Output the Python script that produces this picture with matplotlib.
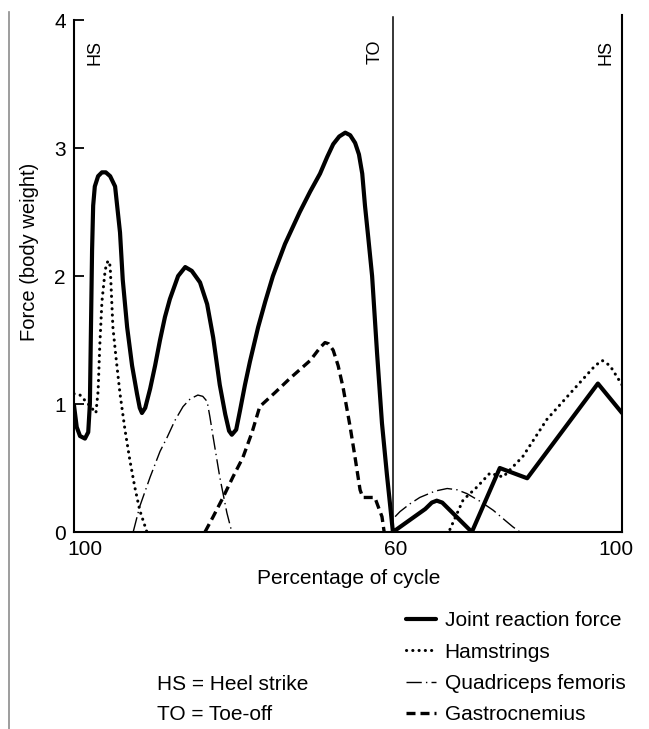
"""Knee joint reaction force and muscle forces over the gait cycle."""

import numpy as np
import matplotlib

matplotlib.use("Agg")
import matplotlib.pyplot as plt
from matplotlib.lines import Line2D

plt.rcParams["font.family"] = ["Liberation Sans", "DejaVu Sans"]

nan = np.nan

# x is position along the plotted cycle (0 = heel strike, 58.2 = toe-off, 100 = next heel strike)
jrf_x = [0.0, 0.5, 1.1, 2.0, 2.6, 2.9, 3.1, 3.3, 3.5, 3.8, 4.4, 5.1, 5.8, 6.6, 7.5,
         8.0, 8.4, 8.9, 9.7, 10.6, 11.5, 12.0, 12.4, 13.0, 13.9, 14.8, 15.7, 16.6,
         17.5, 19.0, 20.3, 21.5, 23.0, 24.3, 25.4, 26.6, 27.6, 28.3, 28.8, 29.6,
         30.3, 31.2, 32.1, 33.6, 34.9, 36.3, 38.5, 41.2, 43.1, 44.9, 46.2, 47.3,
         48.4, 49.5, 50.4, 51.3, 52.0, 52.6, 53.1, 53.7, 54.4, 55.3, 56.2, 57.1,
         58.2, 64.1, 65.3, 66.2, 67.2, 72.6, 77.7, 82.7, 95.6, 100.0]
jrf_y = [0.99, 0.82, 0.75, 0.73, 0.78, 1.0, 1.6, 2.2, 2.55, 2.7, 2.78, 2.81, 2.81,
         2.78, 2.70, 2.5, 2.34, 1.97, 1.6, 1.3, 1.08, 0.97, 0.93, 0.97, 1.12, 1.3,
         1.5, 1.68, 1.82, 2.0, 2.07, 2.04, 1.95, 1.78, 1.52, 1.15, 0.92, 0.79, 0.76,
         0.8, 0.95, 1.15, 1.33, 1.6, 1.8, 2.0, 2.25, 2.5, 2.66, 2.8, 2.93, 3.03,
         3.09, 3.12, 3.1, 3.04, 2.95, 2.8, 2.55, 2.3, 2.0, 1.4, 0.85, 0.45,
         0.0, 0.18, 0.23, 0.245, 0.23, 0.0, 0.5, 0.42, 1.16, 0.93]

ham_x = [0.0, 1.1, 2.6, 4.0, 4.4, 4.7, 5.1, 5.7, 6.2, 6.6, 7.1, 7.7, 8.4, 9.3, 10.2,
         11.1, 12.0, 13.0, 13.3, nan,
         68.6, 71.0, 73.5, 75.9, 78.3, 81.9, 86.3, 91.1, 95.1, 96.4, 97.8, 100.0]
ham_y = [1.08, 1.07, 1.0, 0.93, 1.1, 1.45, 1.8, 2.05, 2.12, 2.08, 1.6, 1.35, 1.08,
         0.8, 0.56, 0.35, 0.17, 0.04, 0.0, nan,
         0.02, 0.25, 0.35, 0.46, 0.43, 0.59, 0.88, 1.11, 1.30, 1.34, 1.30, 1.15]

quad_x = [10.8, 12.0, 13.9, 15.7, 17.0, 18.4, 19.9, 21.2, 22.6, 23.5, 24.3, 24.8,
          25.4, 26.6, 27.9, 28.8, nan,
          58.6, 59.5, 61.3, 63.1, 65.9, 68.1, 69.9, 71.7, 74.1, 76.5, 78.7, 80.1, 81.4]
quad_y = [0.0, 0.2, 0.43, 0.63, 0.74, 0.87, 0.98, 1.04, 1.07, 1.06, 1.02, 0.9,
          0.74, 0.43, 0.15, 0.0, nan,
          0.12, 0.16, 0.22, 0.27, 0.32, 0.34, 0.33, 0.30, 0.24, 0.17, 0.09, 0.04, 0.0]

gas_x = [23.9, 25.4, 27.2, 29.0, 30.8, 32.5, 33.9, 36.7, 39.4, 43.1, 44.9, 45.8,
         46.5, 47.3, 48.2, 49.1, 50.4, 51.3, 52.2, 52.7, 54.9, 55.5, 56.2, 56.6]
gas_y = [0.0, 0.12, 0.27, 0.43, 0.58, 0.78, 0.98, 1.09, 1.20, 1.34, 1.44, 1.48,
         1.47, 1.42, 1.30, 1.13, 0.82, 0.58, 0.33, 0.27, 0.27, 0.2, 0.12, 0.0]

toe_off = 58.2
event_labels = ["HS", "TO", "HS"]
event_label_x = [3.8, 54.9, 97.1]
x_tick_pos = [2.0, 58.7, 98.9]
x_tick_labels = ["100", "60", "100"]
y_ticks = [0, 1, 2, 3, 4]

fig = plt.figure(figsize=(6.49, 7.29), dpi=100)
ax = fig.add_axes([0.1140, 0.2702, 0.8444, 0.7199])

l_jrf, = ax.plot(jrf_x, jrf_y, color="black", lw=3.0, solid_joinstyle="round",
                 solid_capstyle="round", label="Joint reaction force")
l_ham, = ax.plot(ham_x, ham_y, color="black", lw=2.2, linestyle=(0, (0.05, 2.0)),
                 dash_capstyle="round", label="Hamstrings")
l_quad, = ax.plot(quad_x, quad_y, color="black", lw=1.0,
                  linestyle=(0, (11, 3, 1, 3)), label="Quadriceps femoris")
l_gas, = ax.plot(gas_x, gas_y, color="black", lw=2.4, linestyle=(0, (2.7, 1.5)),
                 label="Gastrocnemius")

ax.plot([toe_off, toe_off], [0, 4.02], color="black", lw=1.1)

ax.set_xlim(0, 100)
ax.set_ylim(0, 4.1)
ax.spines["top"].set_visible(False)
ax.spines["left"].set_bounds(0, 4)
ax.spines["right"].set_bounds(0, 4.04)
for side in ("left", "right", "bottom"):
    ax.spines[side].set_linewidth(1.5)

ax.set_yticks(y_ticks)
ax.set_xticks(x_tick_pos)
ax.set_xticklabels(x_tick_labels)
ax.tick_params(axis="y", direction="in", length=7, width=1.3, pad=6, labelsize=15)
ax.tick_params(axis="x", length=0, pad=5.5, labelsize=15)

for text, xpos in zip(event_labels, event_label_x):
    ax.text(xpos, 3.75, text, rotation=90, ha="center", va="center", fontsize=13)

fig.text(348.5 / 649, 1 - 578 / 729, "Percentage of cycle", ha="center",
         va="center", fontsize=15)
fig.text(30 / 649, 1 - 252 / 729, "Force (body weight)", rotation=90,
         ha="center", va="center", fontsize=14.5)

fig.text(157 / 649, 1 - 685 / 729, "HS = Heel strike", ha="left", va="center",
         fontsize=15)
fig.text(157 / 649, 1 - 714 / 729, "TO = Toe-off", ha="left", va="center",
         fontsize=15)

fig.legend(handles=[l_jrf, l_ham, l_quad, l_gas], loc="upper left",
           bbox_to_anchor=(406 / 649, 1 - 611 / 729), frameon=False,
           fontsize=15, handlelength=1.45, handletextpad=0.4,
           labelspacing=0.6, borderpad=0, borderaxespad=0)

# page edge from the scanned original
fig.add_artist(Line2D([9 / 649, 9 / 649], [0, 1 - 12 / 729], color="#8c8c8c",
                      lw=1.2))

fig.savefig("out.png", dpi=100)
